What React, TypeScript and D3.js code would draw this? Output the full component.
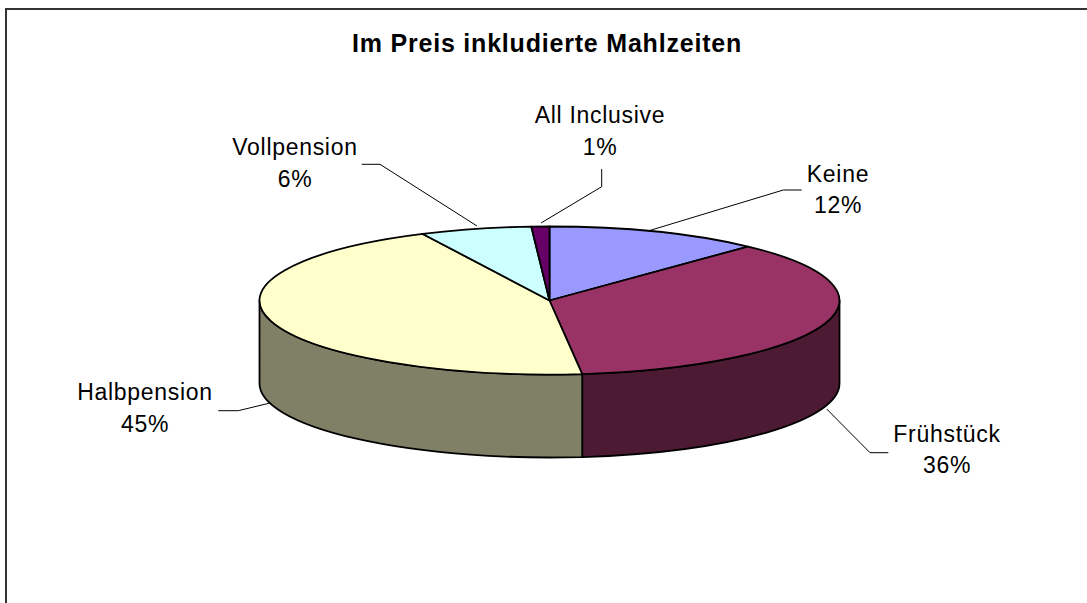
import React from "react";
import * as d3 from "d3";

const categories = ["Keine", "Frühstück", "Halbpension", "Vollpension", "All Inclusive"];
const values = [12.0, 36.2, 44.6, 6.2, 1.0];
const topColors = ["#9999FF", "#993366", "#FFFFCC", "#CCFFFF", "#660066"];
const title = "Im Preis inkludierte Mahlzeiten";

// layout (positions of labels and leader lines)
const labelLayout = [
  { x: 838, y: 181.7, leader: [[801.7, 190], [783.3, 190], [648, 231]] },
  { x: 947, y: 441.7, leader: [[888.3, 452.7], [870, 452.7], [826.7, 409]] },
  { x: 145, y: 400, leader: [[218.3, 410.7], [238.3, 410.7], [270, 403]] },
  { x: 295, y: 155, leader: [[361.7, 164.3], [380, 164.3], [477, 226]] },
  { x: 600, y: 123.3, leader: [[601.7, 169], [601.7, 186.7], [541, 223]] },
];

const W = 1087;
const H = 603;
const cx = 549.5;
const cy = 300.5;
const rx = 290;
const ry = 74;
const depth = 83;
const FONT = "Arial, 'Liberation Sans', sans-serif";

function pt(a: number, dy = 0): [number, number] {
  return [cx + rx * Math.sin(a), cy - ry * Math.cos(a) + dy];
}

export default function App() {
  const pie = d3
    .pie<number>()
    .sort(null)
    .value((d) => d)
    .startAngle(0)
    .endAngle(2 * Math.PI);
  const arcs = pie(values);
  const total = d3.sum(values);
  const fmt = (v: number) => `${Math.round((v / total) * 100)}%`;

  const topPath = (a0: number, a1: number) => {
    const p0 = pt(a0);
    const p1 = pt(a1);
    const large = a1 - a0 > Math.PI ? 1 : 0;
    return `M${cx},${cy}L${p0[0]},${p0[1]}A${rx},${ry} 0 ${large} 1 ${p1[0]},${p1[1]}Z`;
  };

  const sidePath = (a0: number, a1: number) => {
    const s = Math.max(a0, Math.PI / 2);
    const e = Math.min(a1, (3 * Math.PI) / 2);
    if (e <= s) return null;
    const p0 = pt(s);
    const p1 = pt(e);
    const q1 = pt(e, depth);
    const q0 = pt(s, depth);
    return `M${p0[0]},${p0[1]}A${rx},${ry} 0 0 1 ${p1[0]},${p1[1]}L${q1[0]},${q1[1]}A${rx},${ry} 0 0 0 ${q0[0]},${q0[1]}Z`;
  };

  const line = d3.line();

  return (
    <svg
      width={W}
      height={H}
      style={{ position: "absolute", left: 0, top: 0, background: "#fff" }}
    >
      <rect x={0} y={0} width={W} height={H} fill="#fff" />
      <rect x={6} y={9} width={W + 20} height={H + 20} fill="none" stroke="#333" strokeWidth={2} />
      <text
        x={547}
        y={51.7}
        textAnchor="middle"
        fontFamily={FONT}
        fontWeight="bold"
        fontSize={25}
        letterSpacing={0.8}
        fill="#000"
      >
        {title}
      </text>
      {/* sides */}
      {arcs.map((a, i) => {
        const d = sidePath(a.startAngle, a.endAngle);
        if (!d) return null;
        const c = d3.rgb(topColors[i]);
        const side = d3.rgb(c.r * 0.5, c.g * 0.5, c.b * 0.5).formatHex();
        return (
          <path key={"s" + i} d={d} fill={side} stroke="#000" strokeWidth={1.8} strokeLinejoin="round" />
        );
      })}
      {/* tops */}
      {arcs.map((a, i) => (
        <path
          key={"t" + i}
          d={topPath(a.startAngle, a.endAngle)}
          fill={topColors[i]}
          stroke="#000"
          strokeWidth={1.8}
          strokeLinejoin="round"
        />
      ))}
      {/* leader lines and labels */}
      {arcs.map((a, i) => {
        const L = labelLayout[i];
        return (
          <g key={"l" + i}>
            <path
              d={line(L.leader as [number, number][]) || ""}
              fill="none"
              stroke="#000"
              strokeWidth={1}
            />
            <text
              x={L.x}
              y={L.y}
              textAnchor="middle"
              fontFamily={FONT}
              fontSize={23}
              letterSpacing={0.7}
              fill="#000"
            >
              {categories[i]}
            </text>
            <text
              x={L.x}
              y={L.y + 31.6}
              textAnchor="middle"
              fontFamily={FONT}
              fontSize={23}
              letterSpacing={0.7}
              fill="#000"
            >
              {fmt(values[i])}
            </text>
          </g>
        );
      })}
    </svg>
  );
}
